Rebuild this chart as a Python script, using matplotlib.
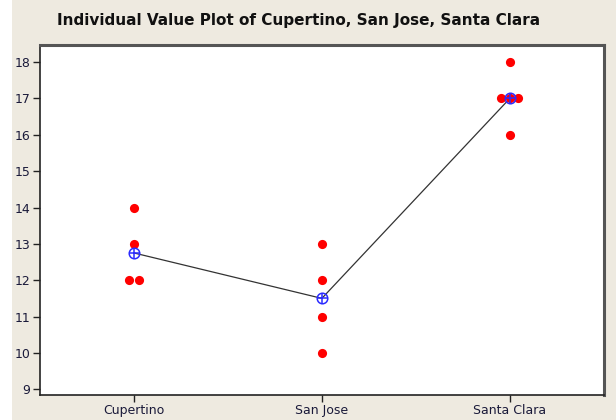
import matplotlib
matplotlib.use("Agg")
import matplotlib.pyplot as plt
from matplotlib.patches import Rectangle

# Category labels and the individual observations for each city
categories = ["Cupertino", "San Jose", "Santa Clara"]
cupertino = [14, 13, 12, 12]
san_jose = [13, 12, 11, 10]
santa_clara = [18, 17, 17, 17, 16]
y_ticks = [9, 10, 11, 12, 13, 14, 15, 16, 17, 18]
title = "Individual Value Plot of Cupertino, San Jose, Santa Clara"

groups = [cupertino, san_jose, santa_clara]


def side_by_side(values, step):
    """Spread repeated values horizontally so tied points stay visible."""
    offsets = []
    counts = {}
    for v in values:
        counts[v] = counts.get(v, 0) + 1
    seen = {}
    for v in values:
        n = counts[v]
        k = seen.get(v, 0)
        seen[v] = k + 1
        offsets.append((k - (n - 1) / 2) * step)
    return offsets


bg = "#EEEAE0"
fig = plt.figure(figsize=(6.16, 4.20), dpi=100, facecolor=bg)
# thin white strip along the left edge of the window
fig.patches.append(Rectangle((0, 0), 12 / 616, 1, transform=fig.transFigure,
                             facecolor="white", edgecolor="none", zorder=-1))

ax = fig.add_axes([40 / 616, 1 - 394.7 / 420, 563.7 / 616, 350 / 420])
ax.set_facecolor("white")

steps = [0.052, 0.046, 0.046]
for i, vals in enumerate(groups):
    xs = [i + o for o in side_by_side(vals, steps[i])]
    ax.plot(xs, vals, linestyle="none", marker="o", markersize=6.6,
            color="#FF0000", markeredgewidth=0, zorder=3)

means = [sum(v) / len(v) for v in groups]
xpos = list(range(len(categories)))
ax.plot(xpos, means, color="#333333", linewidth=0.9, zorder=2)
ax.plot(xpos, means, linestyle="none", marker="o", markersize=7.6,
        markerfacecolor="none", markeredgecolor="#2B2BFF",
        markeredgewidth=1.1, zorder=4)
ax.plot(xpos, means, linestyle="none", marker="+", markersize=7.6,
        markeredgecolor="#2B2BFF", markeredgewidth=1.1, zorder=4)

ax.set_xlim(-0.5, 2.5)
ax.set_ylim(8.85, 18.48)
ax.set_xticks(xpos)
ax.set_xticklabels(categories)
ax.set_yticks(y_ticks)
ax.set_yticklabels([str(t) for t in y_ticks])

ax.tick_params(axis="both", direction="out", length=5, width=1,
               color="#222222", labelsize=9, labelcolor="#1A1A3A", pad=2)

for side in ["left", "bottom"]:
    ax.spines[side].set_color("#222222")
    ax.spines[side].set_linewidth(1.2)
for side in ["top", "right"]:
    ax.spines[side].set_color("#555555")
    ax.spines[side].set_linewidth(2.2)

fig.text(57 / 616, 1 - 20 / 420, title, fontsize=11.0, fontweight="bold",
         color="#111111", ha="left", va="center")

fig.savefig("out.png", dpi=100, facecolor=bg)
